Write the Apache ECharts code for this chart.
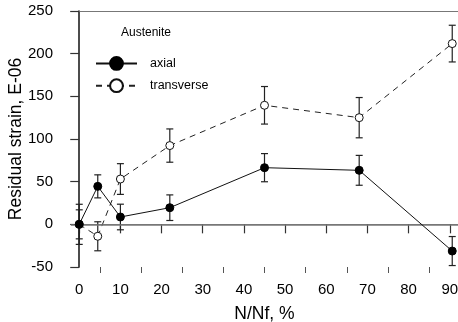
<!DOCTYPE html>
<html><head><meta charset="utf-8">
<script src="https://cdn.jsdelivr.net/npm/echarts@6/dist/echarts.min.js"></script>
<style>html,body{margin:0;padding:0;background:#fff}#c{width:458px;height:322px}</style></head>
<body><div id="c"></div>
<script>
const xTicks = [0, 10, 20, 30, 40, 50, 60, 70, 80, 90];
const xMinorTicks = [5, 15, 25, 35, 45, 55, 65, 75, 85];
const nnf = [0, 4.5, 10, 22, 45, 68, 90.6];
const axial = [0, 44.5, 8.6, 19.5, 66.4, 63.3, -31.3];
const axialErr = [23.5, 13.5, 15, 15, 16.5, 17.5, 17];
const transverse = [0, -14, 53.1, 92.3, 139.5, 125, 211.8];
const transverseErr = [17, 17, 18, 19.5, 22, 23.6, 21.5];

const font = 'Liberation Sans, Arial, sans-serif';
const pts = (ys) => nnf.map((x, i) => [x, ys[i]]);
const errData = (ys, es) => nnf.map((x, i) => [x, ys[i] - es[i], ys[i] + es[i]]);

function errRender(params, api) {
  const x = api.value(0);
  const lo = api.coord([x, api.value(1)]);
  const hi = api.coord([x, api.value(2)]);
  const w = 3.5;
  const st = { stroke: '#222', lineWidth: 1.2 };
  return { type: 'group', children: [
    { type: 'line', shape: { x1: lo[0], y1: lo[1], x2: hi[0], y2: hi[1] }, style: st },
    { type: 'line', shape: { x1: lo[0] - w, y1: lo[1], x2: lo[0] + w, y2: lo[1] }, style: st },
    { type: 'line', shape: { x1: hi[0] - w, y1: hi[1], x2: hi[0] + w, y2: hi[1] }, style: st }
  ]};
}

const chart = echarts.init(document.getElementById('c'), null, { renderer: 'canvas' });
chart.setOption({
  animation: false,
  backgroundColor: '#fff',
  textStyle: { fontFamily: font },
  grid: { left: 71, right: 0, top: 11, bottom: 55, outerBoundsMode: 'none', containLabel: false },
  graphic: [{ type: 'text', left: 121, top: 27, style: { text: 'Austenite', font: '12px ' + font, fill: '#000' } }],
  legend: {
    data: ['axial', 'transverse'], orient: 'vertical', left: 90, top: 51,
    itemWidth: 41, itemHeight: 16, itemGap: 7.5,
    textStyle: { fontSize: 12.5, color: '#000', fontFamily: font, padding: [0, 0, 0, 8] }
  },
  xAxis: [
    { type: 'value', min: -2, max: 92, position: 'bottom',
      name: 'N/Nf, %', nameLocation: 'middle', nameGap: 38, nameMoveOverlap: false,
      nameTextStyle: { fontSize: 17.5, color: '#000', fontFamily: font },
      axisLine: { show: true, lineStyle: { color: '#777', width: 1.2 } },
      axisTick: { show: true, customValues: xTicks, length: 9, lineStyle: { color: '#333', width: 1.2 } },
      axisLabel: { customValues: xTicks, fontSize: 15, color: '#000', margin: 15, fontFamily: font },
      splitLine: { show: false } },
    { type: 'value', min: -2, max: 92, position: 'bottom',
      axisLine: { show: false },
      axisTick: { show: true, customValues: xMinorTicks, length: 6, lineStyle: { color: '#555', width: 1 } },
      axisLabel: { show: false }, splitLine: { show: false } },
    { type: 'value', min: -2, max: 92, position: 'top',
      axisLine: { show: true, lineStyle: { color: '#777', width: 1.2 } },
      axisTick: { show: false }, axisLabel: { show: false }, splitLine: { show: false } }
  ],
  yAxis: {
    type: 'value', min: -50, max: 250, interval: 50,
    name: 'Residual strain, E-06', nameLocation: 'middle', nameGap: 46, nameMoveOverlap: false,
    nameTextStyle: { fontSize: 17.5, color: '#000', fontFamily: font },
    axisLine: { show: true, lineStyle: { color: '#111', width: 1.5 } },
    axisTick: { show: true, length: 9, lineStyle: { color: '#333', width: 1.2 } },
    axisLabel: { fontSize: 15, color: '#000', margin: 18, fontFamily: font },
    splitLine: { show: false }
  },
  series: [
    { name: 'zero', type: 'line', data: [], xAxisIndex: 0, silent: true,
      markLine: { silent: true, symbol: 'none', label: { show: false },
        lineStyle: { color: '#777', width: 1.5, type: 'solid' }, data: [{ yAxis: 0 }] } },
    { name: 'transverseErr', type: 'custom', renderItem: errRender, data: errData(transverse, transverseErr), z: 3 },
    { name: 'axialErr', type: 'custom', renderItem: errRender, data: errData(axial, axialErr), z: 3 },
    { name: 'transverse', type: 'line', data: pts(transverse), z: 4,
      symbol: 'circle', symbolSize: 8,
      lineStyle: { color: '#222', width: 1, type: [6, 5] },
      itemStyle: { color: '#fff', borderColor: '#111', borderWidth: 1 } },
    { name: 'axial', type: 'line', data: pts(axial), z: 5,
      symbol: 'circle', symbolSize: 8,
      lineStyle: { color: '#111', width: 1, type: 'solid' },
      itemStyle: { color: '#000', borderColor: '#000', borderWidth: 1 } }
  ]
});
</script></body></html>
